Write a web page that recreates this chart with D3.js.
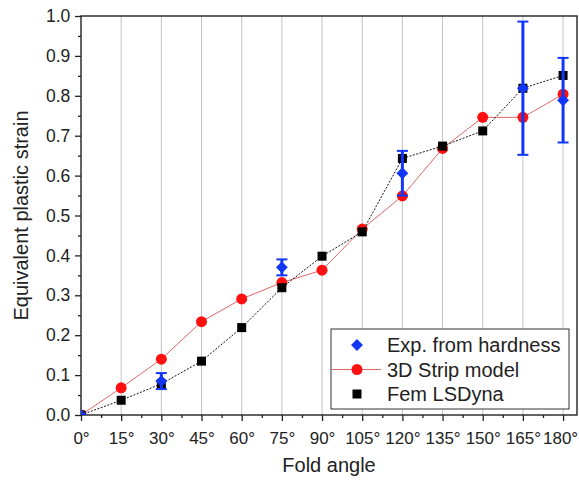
<!DOCTYPE html>
<html>
<head>
<meta charset="utf-8">
<script src="https://cdn.jsdelivr.net/npm/d3@7"></script>
<style>
  body { margin: 0; background: #fff; }
  text { font-family: "Liberation Sans", Arial, sans-serif; fill: #222; }
</style>
</head>
<body>
<svg id="chart" width="579" height="480"></svg>
<script>
// fold angles (deg)
const angles = [0, 15, 30, 45, 60, 75, 90, 105, 120, 135, 150, 165, 180];
const stripModel = [0, 0.068, 0.14, 0.234, 0.291, 0.332, 0.363, 0.466, 0.549, 0.668, 0.746, 0.746, 0.804];
const femLSDyna = [0, 0.037, 0.078, 0.135, 0.219, 0.319, 0.398, 0.459, 0.643, 0.674, 0.712, 0.819, 0.851];
// experimental points (from hardness) with error
const expAngles = [0, 30, 75, 120, 165, 180];
const expValues = [0, 0.085, 0.37, 0.606, 0.819, 0.789];
const expErr = [0, 0.02, 0.02, 0.056, 0.167, 0.106];
const xTicks = angles;
const yTicks = [0, 0.1, 0.2, 0.3, 0.4, 0.5, 0.6, 0.7, 0.8, 0.9, 1.0];
const legendLabels = ['Exp. from hardness', '3D Strip model', 'Fem LSDyna'];

const svg = d3.select('#chart');
const pLeft = 81, pRight = 577, pTop = 16, pBottom = 415;

const x = d3.scaleLinear().domain([0, 185.2]).range([pLeft, pRight]);
const y = d3.scaleLinear().domain([0, 1]).range([pBottom, pTop]);

const blue = '#1236f5';
const red = '#ff1010';

svg.append('defs').append('clipPath').attr('id', 'plot')
  .append('rect').attr('x', pLeft).attr('y', pTop).attr('width', pRight - pLeft).attr('height', pBottom - pTop);

// vertical grid
svg.append('g')
  .selectAll('line')
  .data(xTicks.slice(1))
  .enter()
  .append('line')
  .attr('x1', d => x(d)).attr('x2', d => x(d))
  .attr('y1', pTop).attr('y2', pBottom)
  .attr('stroke', '#c4c4c4')
  .attr('stroke-width', 1);

// axes
const xAxis = d3.axisBottom(x).tickValues(xTicks).tickSize(6).tickFormat(d => d + '°');
const xMinor = d3.axisBottom(x).tickValues(d3.range(7.5, 185, 15)).tickSize(3).tickFormat('');
const yAxis = d3.axisLeft(y).tickValues(yTicks).tickSize(6).tickFormat(d3.format('.1f'));
const yMinor = d3.axisLeft(y).tickValues(d3.range(0.05, 1, 0.1)).tickSize(3).tickFormat('');

const gx = svg.append('g').attr('transform', `translate(0,${pBottom})`).call(xAxis);
svg.append('g').attr('transform', `translate(0,${pBottom})`).call(xMinor);
const gy = svg.append('g').attr('transform', `translate(${pLeft},0)`).call(yAxis);
svg.append('g').attr('transform', `translate(${pLeft},0)`).call(yMinor);

svg.selectAll('.domain').remove();
svg.selectAll('.tick line').attr('stroke', '#222').attr('stroke-width', 1.3);
gx.selectAll('text').attr('font-size', 17).attr('dy', '1.15em').attr('fill', '#222');
// last label sits at the window edge, nudge it in
gx.selectAll('text').filter(d => d === 180).attr('dx', '-3');
gy.selectAll('text').attr('font-size', 17.5).attr('dx', '-0.1em').attr('fill', '#222');

// frame
svg.append('rect')
  .attr('x', pLeft).attr('y', pTop)
  .attr('width', pRight - pLeft).attr('height', pBottom - pTop)
  .attr('fill', 'none').attr('stroke', '#222').attr('stroke-width', 1.4);

// axis titles
svg.append('text')
  .attr('x', (pLeft + pRight) / 2).attr('y', 472)
  .attr('text-anchor', 'middle').attr('font-size', 20)
  .text('Fold angle');
svg.append('text')
  .attr('transform', `translate(28,${(pTop + pBottom) / 2}) rotate(-90)`)
  .attr('text-anchor', 'middle').attr('font-size', 20)
  .text('Equivalent plastic strain');

const plot = svg.append('g').attr('clip-path', 'url(#plot)');

const line = d3.line().x(d => x(d[0])).y(d => y(d[1]));

// 3D strip model
plot.append('path')
  .datum(angles.map((a, i) => [a, stripModel[i]]))
  .attr('fill', 'none').attr('stroke', '#d55').attr('stroke-width', 0.9)
  .attr('d', line);
plot.selectAll('circle.strip')
  .data(angles.map((a, i) => [a, stripModel[i]]))
  .enter()
  .append('circle')
  .attr('cx', d => x(d[0])).attr('cy', d => y(d[1]))
  .attr('r', 5.5).attr('fill', red);

// Fem LSDyna
plot.append('path')
  .datum(angles.map((a, i) => [a, femLSDyna[i]]))
  .attr('fill', 'none').attr('stroke', '#111').attr('stroke-width', 1)
  .attr('stroke-dasharray', '2,1.5')
  .attr('d', line);
plot.selectAll('rect.fem')
  .data(angles.map((a, i) => [a, femLSDyna[i]]))
  .enter()
  .append('rect')
  .attr('x', d => x(d[0]) - 4.5).attr('y', d => y(d[1]) - 4.5)
  .attr('width', 9).attr('height', 9).attr('fill', '#000');

// experiment with error bars
const expData = expAngles.map((a, i) => ({ a, v: expValues[i], e: expErr[i] }));
const eb = plot.selectAll('g.err').data(expData.filter(d => d.e > 0)).enter().append('g');
eb.append('line')
  .attr('x1', d => x(d.a)).attr('x2', d => x(d.a))
  .attr('y1', d => y(d.v - d.e)).attr('y2', d => y(d.v + d.e))
  .attr('stroke', blue).attr('stroke-width', 3);
eb.append('line')
  .attr('x1', d => x(d.a) - 5.5).attr('x2', d => x(d.a) + 5.5)
  .attr('y1', d => y(d.v + d.e)).attr('y2', d => y(d.v + d.e))
  .attr('stroke', blue).attr('stroke-width', 2);
eb.append('line')
  .attr('x1', d => x(d.a) - 5.5).attr('x2', d => x(d.a) + 5.5)
  .attr('y1', d => y(d.v - d.e)).attr('y2', d => y(d.v - d.e))
  .attr('stroke', blue).attr('stroke-width', 2);

const diamond = d3.symbol().type(d3.symbolDiamond2).size(90);
plot.selectAll('path.exp')
  .data(expData)
  .enter()
  .append('path')
  .attr('d', diamond)
  .attr('transform', d => `translate(${x(d.a)},${y(d.v)})`)
  .attr('fill', blue);

// legend
const lg = svg.append('g');
lg.append('rect')
  .attr('x', 331).attr('y', 329).attr('width', 238).attr('height', 80)
  .attr('fill', '#fff').attr('stroke', '#333').attr('stroke-width', 1);
const rowY = [345, 369.5, 394];
lg.append('path').attr('d', diamond).attr('transform', `translate(357,${rowY[0]})`).attr('fill', blue);
lg.append('line').attr('x1', 332).attr('x2', 381).attr('y1', rowY[1]).attr('y2', rowY[1])
  .attr('stroke', '#d55').attr('stroke-width', 0.9);
lg.append('circle').attr('cx', 357).attr('cy', rowY[1]).attr('r', 5.5).attr('fill', red);
lg.append('rect').attr('x', 352.5).attr('y', rowY[2] - 4.5).attr('width', 9).attr('height', 9).attr('fill', '#000');
lg.selectAll('text.leg')
  .data(legendLabels)
  .enter()
  .append('text')
  .attr('x', 387).attr('y', (d, i) => rowY[i])
  .attr('dy', '0.36em').attr('font-size', 20)
  .text(d => d);
</script>
</body>
</html>
